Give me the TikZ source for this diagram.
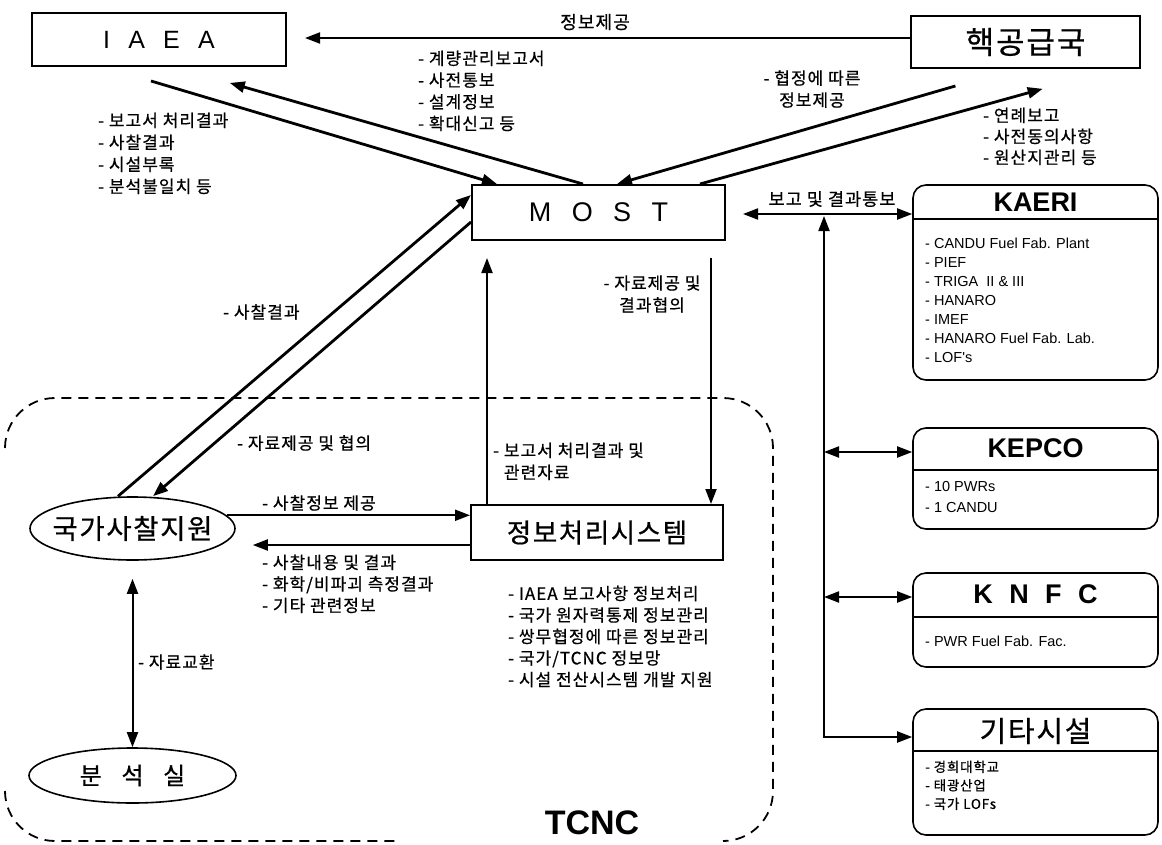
\documentclass[tikz,border=0pt]{standalone}
\usepackage{fontspec}
\setmainfont{Noto Sans CJK KR}[LetterSpace=6, FakeBold=0.6]
\newfontfamily\arial{Liberation Sans}
\newcommand{\wsp}[1][.45em]{\hspace{#1}}
\usetikzlibrary{positioning}
\usetikzlibrary{shapes.geometric,arrows.meta}
\tikzset{%
  block/.style    = {draw, line width=2pt, rectangle, inner sep=0pt},
  oval/.style     = {draw, line width=1.6pt, ellipse, inner xsep=-15pt, inner ysep=0pt}, % sites
  facility/.style = {draw, line width=1.6pt, rectangle, rounded corners=13pt,
    minimum width=245pt},
  head/.style     = {inner sep=0pt, font=\arial\bfseries\fontsize{27}{27}\selectfont},
  items/.style    = {anchor=north west, align=left, inner sep=0pt,
    font=\arial\fontsize{14.5}{19}\selectfont},
  note/.style     = {anchor=west, inner sep=0pt, font=\fontsize{17}{21.5}\selectfont},
  notes/.style    = {anchor=north west, align=left, inner sep=0pt,
    font=\fontsize{17}{21.5}\selectfont},
  flow/.style     = {line width=2pt},
  heavy/.style    = {line width=2.8pt},
  tcnc/.style     = {dashed, dash pattern=on 10pt off 7pt, line width=1.8pt,
    rounded corners=50pt}
}
\begin{document}
\begin{tikzpicture}[x=1pt, y=-1pt, >={Triangle[length=15pt,width=11pt]}]
  \useasboundingbox (0,0) rectangle (1162,844);

  % TCNC boundary
  \draw[tcnc] (5,448) -- (5,398) -- (773,398) -- (773,841) -- (723,841);
  \draw[tcnc] (5,791) -- (5,841) -- (398,841);
  \draw node at (592,823) [font=\arial\bfseries\fontsize{34}{34}\selectfont] (tcnc) {TCNC};

  % agencies
  \draw node at (159,39.5) [block, minimum width=254pt, minimum height=53pt] (iaea)
    {\arial\fontsize{25}{25}\selectfont I \wsp A \wsp E \wsp A};
  \draw node at (1025.5,42) [block, minimum width=229pt, minimum height=52pt] (nsg)
    {\fontsize{31}{31}\selectfont 핵공급국};
  \draw node at (598.5,212.5) [block, minimum width=253pt, minimum height=55pt] (most)
    {\arial\fontsize{27}{27}\selectfont M \wsp[.2em] O \wsp[.2em] S \wsp[.2em] T};
  \draw node at (597,532.5) [block, minimum width=252pt, minimum height=55pt] (ips)
    {\fontsize{26.5}{26.5}\selectfont 정보처리시스템};
  \draw node at (132.5,528.5) [oval, minimum width=205pt, minimum height=63pt] (nis)
    {\fontsize{27.5}{27.5}\selectfont 국가사찰지원};
  \draw node at (132.5,775.5) [oval, minimum width=207pt, minimum height=55pt] (lab)
    {\fontsize{24}{24}\selectfont 분 \wsp[.25em] 석 \wsp[.25em] 실};

  % facilities
  \draw node at (1035.5,282.5) [facility, minimum height=195pt] (kaeri) {};
  \draw[line width=1.6pt] (kaeri.west |- 0,219) -- (kaeri.east |- 0,219);
  \draw node at (1035.5,202) [head] (kaerit) {KAERI};
  \draw node at (925,237.5) [items] (kaerii) {- CANDU Fuel Fab. Plant\\- PIEF\\
    - TRIGA \ II \& III\\- HANARO\\- IMEF\\- HANARO Fuel Fab. Lab.\\- LOF's};

  \draw node at (1035.5,478.5) [facility, minimum height=101pt] (kepco) {};
  \draw[line width=1.6pt] (kepco.west |- 0,470) -- (kepco.east |- 0,470);
  \draw node at (1035.5,448) [head] (kepcot) {KEPCO};
  \draw node at (925,481.5) [items, font=\arial\fontsize{14.5}{20.5}\selectfont] (kepcoi)
    {- 10 PWRs\\- 1 CANDU};

  \draw node at (1035.5,620) [facility, minimum height=94pt] (knfc) {};
  \draw[line width=1.6pt] (knfc.west |- 0,617) -- (knfc.east |- 0,617);
  \draw node at (1035.5,594) [head] (knfct) {K \wsp[.05em] N \wsp[.05em] F \wsp[.05em] C};
  \draw node at (925,635.5) [items] (knfci) {- PWR Fuel Fab. Fac.};

  \draw node at (1035.5,772) [facility, minimum height=126pt] (etc) {};
  \draw[line width=1.6pt] (etc.west |- 0,751) -- (etc.east |- 0,751);
  \draw node at (1035.5,731) [inner sep=0pt, font=\fontsize{29}{29}\selectfont] (etct) {기타시설};
  \draw node at (925,760.5) [items, font=\fontsize{13.5}{18.5}\selectfont] (etci)
    {- 경희대학교\\- 태광산업\\- 국가 LOFs};

  % IAEA / 핵공급국 / MOST
  \draw[flow, ->, shorten >=18pt] (nsg.west |- 0,38) -- (iaea.east |- 0,38);
  \draw node at (595,22) [inner sep=0pt, font=\fontsize{18}{18}\selectfont] (supply) {정보제공};
  \draw[heavy, ->, shorten <=49pt] (iaea.south -| 104,0) -- (most.north -| 497,0);
  \draw[heavy, ->, shorten >=58pt] (most.north -| 583,0) -- (iaea.south -| 174,0);
  \draw[heavy, ->, shorten <=61pt] (nsg.south -| 1014,0) -- (most.north -| 617,0);
  \draw[heavy, ->, shorten >=74pt] (most.north -| 700,0) -- (nsg.south -| 1114,0);
  \draw node at (418,50.5) [notes, font=\fontsize{17}{21.7}\selectfont] (toiaea)
    {- 계량관리보고서\\- 사전통보\\- 설계정보\\- 확대신고 등};
  \draw node at (98,112.5) [notes, font=\fontsize{17}{22}\selectfont] (fromiaea)
    {- 보고서 처리결과\\- 사찰결과\\- 시설부록\\- 분석불일치 등};
  \draw node at (812,89) [inner sep=0pt, align=center, font=\fontsize{17}{22}\selectfont] (fromnsg)
    {- 협정에 따른\\정보제공};
  \draw node at (983,107.5) [notes, font=\fontsize{17}{21}\selectfont] (tonsg)
    {- 연례보고\\- 사전동의사항\\- 원산지관리 등};

  % MOST / facilities
  \coordinate (bus) at (824,216);
  \draw[flow, <->, shorten <=17pt] (most.east |- 0,214) -- (kaeri.west |- 0,214);
  \draw node at (832,199) [inner sep=0pt, font=\fontsize{17.5}{17.5}\selectfont] (report) {보고 및 결과통보};
  \draw[flow, <->] (bus) |- (etc.west |- 0,737);
  \draw[flow, <->] (bus |- 0,452) -- (kepco.west |- 0,452);
  \draw[flow, <->] (bus |- 0,597) -- (knfc.west |- 0,597);

  % MOST / TCNC
  \draw[flow, ->, shorten >=17pt] (ips.north -| 487,0) -- (most.south -| 487,0);
  \draw[flow, ->, shorten <=17pt] (most.south -| 711,0) -- (ips.north -| 711,0);
  \draw node at (652,294) [inner sep=0pt, align=center, font=\fontsize{17}{22}\selectfont] (consult)
    {- 자료제공 및\\결과협의};
  \draw node at (493,442.5) [notes, font=\fontsize{17}{22}\selectfont] (result)
    {- 보고서 처리결과 및\\\hphantom{- }관련자료};
  \draw[heavy, ->] (nis.north -| 118,0) -- (most.west |- 0,195);
  \draw[heavy, ->] (most.west |- 0,222) -- (nis.north -| 153,0);
  \draw node at (223,312) [note] (inspres) {- 사찰결과};
  \draw node at (237,443) [note] (data) {- 자료제공 및 협의};

  % TCNC inside
  \draw[flow, ->] (nis.8) -- (nis.8 -| ips.west);
  \draw[flow, ->, shorten >=17pt] (ips.west |- 0,545) -- (nis.east |- 0,545);
  \draw node at (262,503) [note] (inspinfo) {- 사찰정보 제공};
  \draw node at (262,554.5) [notes] (inspdata)
    {- 사찰내용 및 결과\\- 화학/비파괴 측정결과\\- 기타 관련정보};
  \draw node at (508,585.5) [notes] (ipstask)
    {- IAEA 보고사항 정보처리\\- 국가 원자력통제 정보관리\\- 쌍무협정에 따른 정보관리\\
     - 국가/TCNC 정보망\\- 시설 전산시스템 개발 지원};
  \draw[flow, <->, shorten <=18pt] (nis.south) -- (lab.north);
  \draw node at (138,662) [note] (swap) {- 자료교환};

\end{tikzpicture}
\end{document}
